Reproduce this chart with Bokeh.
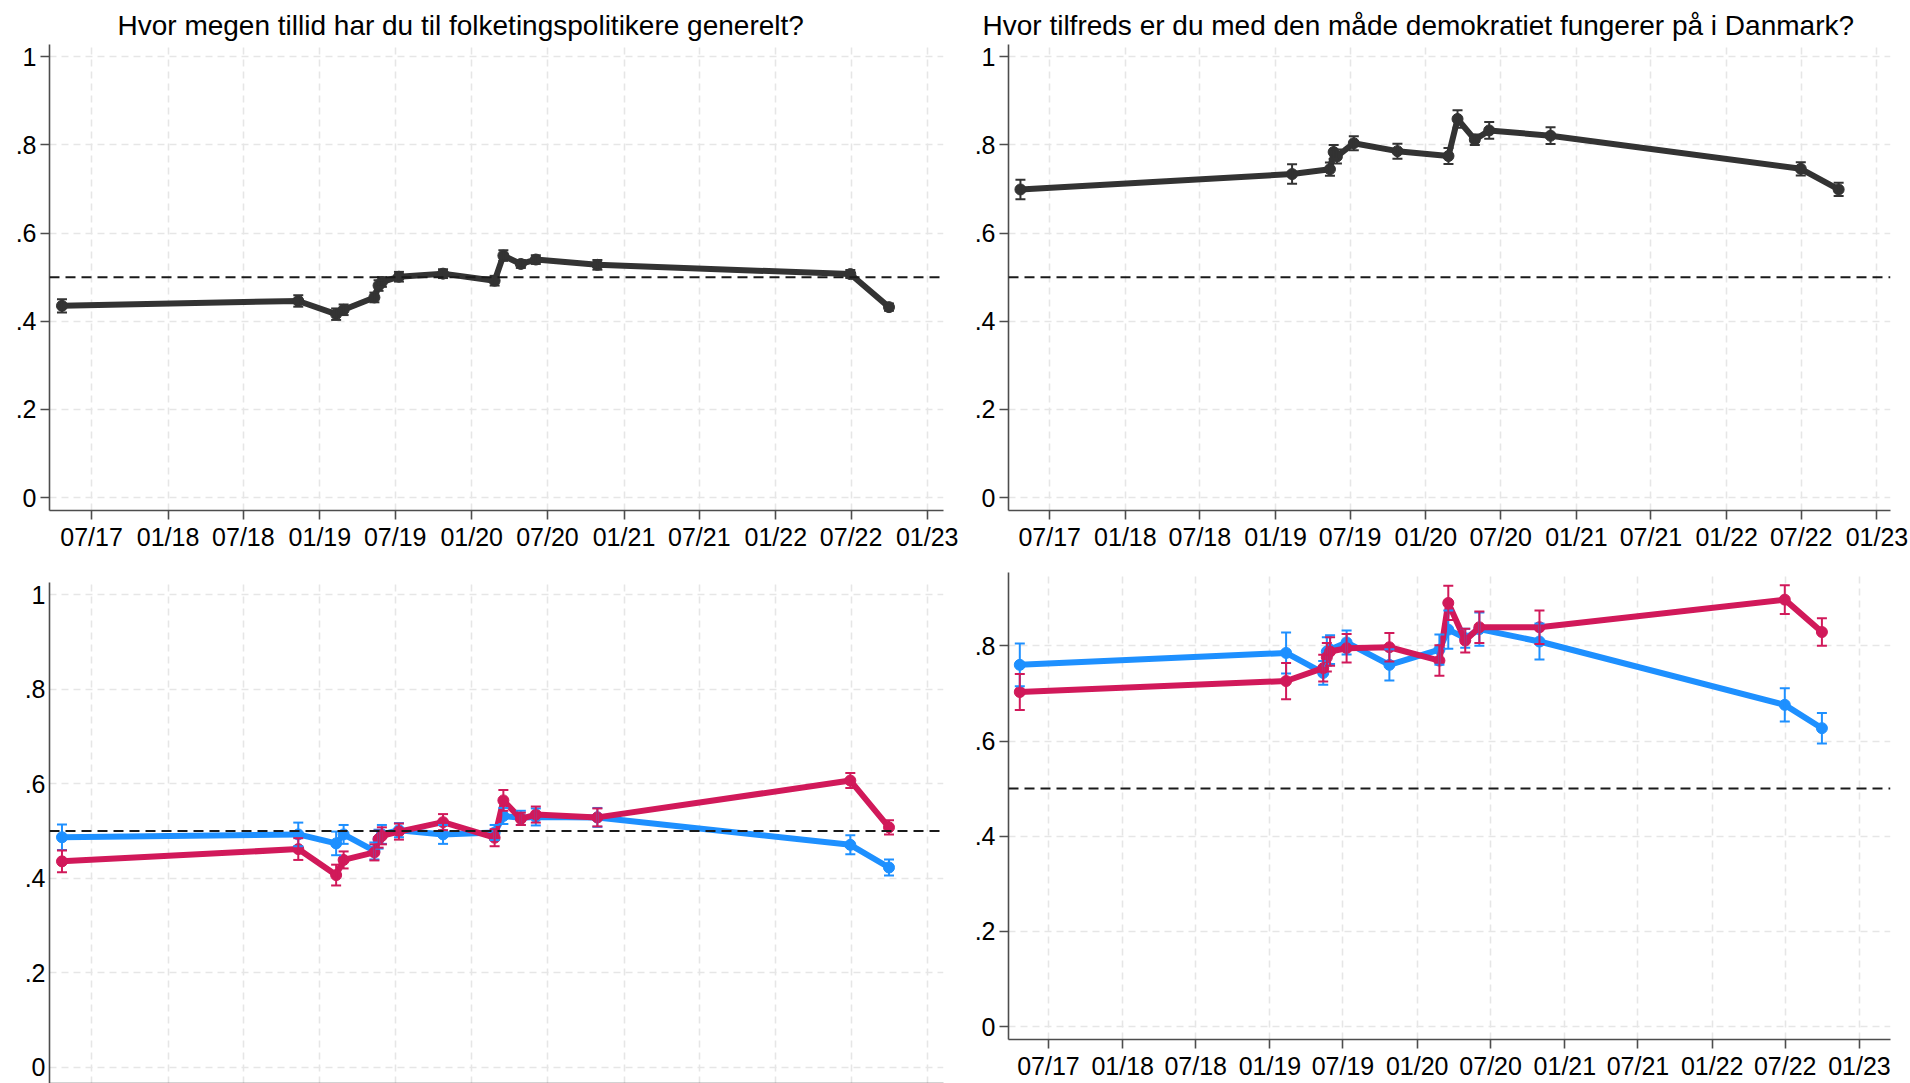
import pandas as pd
from bokeh.plotting import figure
from bokeh.models import ColumnDataSource, Range1d, FixedTicker, Span, Whisker, TeeHead
from bokeh.layouts import row, column
from bokeh.embed import file_html
from bokeh.resources import INLINE

# ---------------- data ----------------
title_trust = "Hvor megen tillid har du til folketingspolitikere generelt?"
title_demo = "Hvor tilfreds er du med den måde demokratiet fungerer på i Danmark?"

dates_trust = ["2017-04-21", "2018-11-10", "2019-02-09", "2019-02-27", "2019-05-12",
               "2019-05-22", "2019-05-30", "2019-07-10", "2019-10-24", "2020-02-25",
               "2020-03-17", "2020-04-28", "2020-06-03", "2020-10-29", "2022-06-29",
               "2022-09-30"]
trust_all = [0.435, 0.446, 0.416, 0.426, 0.454, 0.481, 0.489, 0.501, 0.508, 0.492,
             0.549, 0.530, 0.540, 0.528, 0.507, 0.432]
trust_all_err = [0.015, 0.013, 0.013, 0.012, 0.011, 0.012, 0.011, 0.011, 0.010, 0.011,
                 0.012, 0.009, 0.010, 0.011, 0.009, 0.008]
trust_blue = [0.487, 0.493, 0.474, 0.493, 0.458, 0.483, 0.493, 0.502, 0.493, 0.497,
              0.532, 0.528, 0.530, 0.529, 0.471, 0.423]
trust_blue_err = [0.027, 0.025, 0.025, 0.020, 0.018, 0.020, 0.020, 0.015, 0.020, 0.016,
                  0.017, 0.015, 0.018, 0.020, 0.020, 0.017]
trust_red = [0.436, 0.462, 0.407, 0.439, 0.455, 0.483, 0.490, 0.499, 0.519, 0.486,
             0.565, 0.526, 0.535, 0.529, 0.607, 0.508]
trust_red_err = [0.023, 0.023, 0.022, 0.018, 0.017, 0.018, 0.018, 0.017, 0.017, 0.018,
                 0.022, 0.013, 0.017, 0.019, 0.016, 0.015]

dates_demo = ["2017-04-21", "2019-02-10", "2019-05-13", "2019-05-22", "2019-05-30",
              "2019-07-10", "2019-10-24", "2020-02-25", "2020-03-18", "2020-04-29",
              "2020-06-03", "2020-10-30", "2022-06-30", "2022-09-30"]
demo_all = [0.699, 0.734, 0.745, 0.784, 0.774, 0.804, 0.786, 0.775, 0.859, 0.812,
            0.833, 0.821, 0.746, 0.699]
demo_all_err = [0.022, 0.022, 0.015, 0.016, 0.016, 0.016, 0.017, 0.018, 0.020, 0.012,
                0.019, 0.019, 0.015, 0.015]
demo_blue = [0.760, 0.785, 0.743, 0.788, 0.792, 0.807, 0.760, 0.792, 0.834, 0.816,
             0.835, 0.809, 0.676, 0.627]
demo_blue_err = [0.045, 0.043, 0.025, 0.030, 0.030, 0.025, 0.033, 0.032, 0.040, 0.020,
                 0.035, 0.038, 0.035, 0.032]
demo_red = [0.703, 0.726, 0.753, 0.776, 0.788, 0.795, 0.797, 0.769, 0.890, 0.811,
            0.839, 0.839, 0.897, 0.829]
demo_red_err = [0.038, 0.038, 0.028, 0.030, 0.030, 0.030, 0.030, 0.032, 0.036, 0.025,
                0.033, 0.035, 0.030, 0.029]

x_tick_dates = ["2017-07-01", "2018-01-01", "2018-07-01", "2019-01-01", "2019-07-01",
                "2020-01-01", "2020-07-01", "2021-01-01", "2021-07-01", "2022-01-01",
                "2022-07-01", "2023-01-01"]
x_tick_labels = ["07/17", "01/18", "07/18", "01/19", "07/19", "01/20", "07/20",
                 "01/21", "07/21", "01/22", "07/22", "01/23"]
y_ticks = [0, 0.2, 0.4, 0.6, 0.8, 1]
y_tick_labels = ["0", ".2", ".4", ".6", ".8", "1"]
x_range_left = ("2017-03-22", "2023-02-08")
x_range_right_top = ("2017-03-23", "2023-02-03")
x_range_right_bottom = ("2017-03-24", "2023-03-19")
ref_value = 0.5

COL_ALL = "#333333"
COL_BLUE = "#1E90FF"
COL_RED = "#D1195A"
FONT = "Liberation Sans"


def ms(d):
    return int(pd.Timestamp(d).value // 10**6)


def make_fig(width, height, mbl, mbr, mbt, mbb, xr, yr, title=None, title_offset=0, xlabels=True):
    p = figure(width=width, height=height,
               x_range=Range1d(ms(xr[0]), ms(xr[1])), y_range=Range1d(*yr),
               output_backend="svg", toolbar_location=None,
               min_border_left=mbl, min_border_right=mbr,
               min_border_top=mbt, min_border_bottom=mbb)
    p.outline_line_color = None
    p.background_fill_color = "white"
    p.border_fill_color = "white"

    xt = FixedTicker(ticks=[ms(d) for d in x_tick_dates])
    yt = FixedTicker(ticks=y_ticks)
    if xlabels:
        p.xaxis.ticker = xt
        p.xaxis.major_label_overrides = {ms(d): l for d, l in zip(x_tick_dates, x_tick_labels)}
    else:
        p.xaxis.ticker = FixedTicker(ticks=[])
        p.xaxis.major_label_standoff = 0
    p.xgrid.ticker = xt
    p.yaxis.ticker = yt
    p.ygrid.ticker = yt
    p.yaxis.major_label_overrides = {v: l for v, l in zip(y_ticks, y_tick_labels)}

    for ax in (p.xaxis, p.yaxis):
        ax.axis_line_color = "#4d4d4d"
        ax.axis_line_width = 1.6
        ax.major_tick_line_color = "#4d4d4d"
        ax.major_tick_line_width = 1.6
        ax.major_tick_in = 0
        ax.major_tick_out = 9 if xlabels or ax is p.yaxis else 0
        ax.minor_tick_line_color = None
        ax.major_label_text_font = FONT
        ax.major_label_text_font_size = "25px"
        ax.major_label_text_color = "#000000"
    p.yaxis.major_label_standoff = 4
    if xlabels:
        p.xaxis.major_label_standoff = 3

    for g in (p.xgrid, p.ygrid):
        g.grid_line_color = "#e6e6e6"
        g.grid_line_width = 1.6
        g.grid_line_dash = "7 5"

    if title:
        p.title.text = title
        p.title.align = "left"
        p.title.offset = title_offset
        p.title.text_font = FONT
        p.title.text_font_size = "28px"
        p.title.text_font_style = "normal"
        p.title.text_color = "#000000"
        p.title.standoff = 7
    return p


def add_series(p, dates, vals, errs, color):
    src = ColumnDataSource(dict(
        x=[ms(d) for d in dates],
        y=vals,
        lo=[v - e for v, e in zip(vals, errs)],
        hi=[v + e for v, e in zip(vals, errs)],
    ))
    w = Whisker(source=src, base="x", upper="hi", lower="lo", dimension="height",
                line_color=color, line_width=2, level="glyph",
                upper_head=TeeHead(size=10, line_color=color, line_width=2),
                lower_head=TeeHead(size=10, line_color=color, line_width=2))
    p.add_layout(w)
    p.line("x", "y", source=src, line_color=color, line_width=6)
    p.scatter("x", "y", source=src, size=11, fill_color=color, line_color=color)


def add_ref(p):
    p.add_layout(Span(location=ref_value, dimension="width", line_color="#1a1a1a",
                      line_width=2, line_dash="10 6"))


# top-left
p_tl = make_fig(958, 554, 49, 15, 44, 44, x_range_left, (-0.0295, 1.028), title_trust, 68)
add_series(p_tl, dates_trust, trust_all, trust_all_err, COL_ALL)
add_ref(p_tl)

# bottom-left
p_bl = make_fig(958, 529, 49, 15, 28, 0, x_range_left, (-0.034, 1.026), xlabels=False)
add_series(p_bl, dates_trust, trust_blue, trust_blue_err, COL_BLUE)
add_series(p_bl, dates_trust, trust_red, trust_red_err, COL_RED)
add_ref(p_bl)

# top-right
p_tr = make_fig(952, 554, 50, 20, 44, 44, x_range_right_top, (-0.0295, 1.028), title_demo, -26)
add_series(p_tr, dates_demo, demo_all, demo_all_err, COL_ALL)
add_ref(p_tr)

# bottom-right
p_br = make_fig(952, 529, 50, 20, 18, 44, x_range_right_bottom, (-0.027, 0.954))
add_series(p_br, dates_demo, demo_blue, demo_blue_err, COL_BLUE)
add_series(p_br, dates_demo, demo_red, demo_red_err, COL_RED)
add_ref(p_br)

layout = row(column(p_tl, p_bl), column(p_tr, p_br))
open("out.html", "w").write(file_html(layout, INLINE))
